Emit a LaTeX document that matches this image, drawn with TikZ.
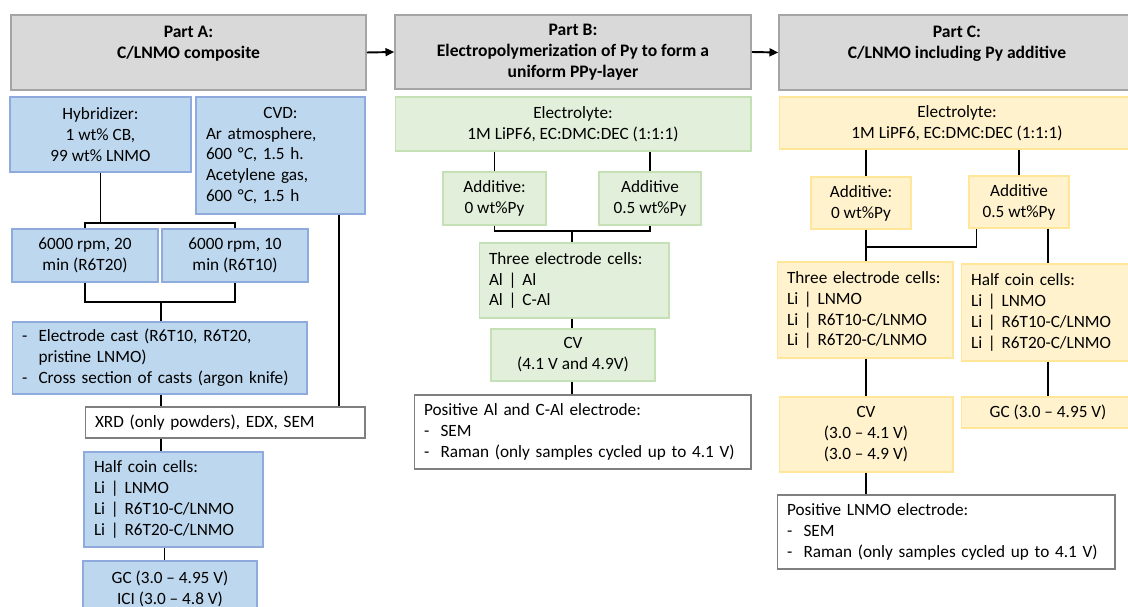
\documentclass[tikz,border=0pt]{standalone}
\usepackage{fontspec}
\setmainfont{Carlito}
\usetikzlibrary{arrows.meta,positioning,calc}
\definecolor{cgray}{HTML}{D9D9D9}
\definecolor{cgrayline}{HTML}{A5A5A5}
\definecolor{cblue}{HTML}{BDD7EE}
\definecolor{cblueline}{HTML}{8FAADC}
\definecolor{cgreen}{HTML}{E2EFDA}
\definecolor{cgreenline}{HTML}{C5E0B4}
\definecolor{cyel}{HTML}{FFF2CC}
\definecolor{cyelline}{HTML}{FFE699}
\definecolor{cwline}{HTML}{7F7F7F}
\newcommand{\dashitem}{\makebox[0.33cm][l]{-}}
\tikzset{
  bx/.style={rectangle,line width=0.6pt,align=center,font=\fontsize{9.8}{11.9}\selectfont,inner sep=2pt},
  hdr/.style={bx,fill=cgray,draw=cgrayline,line width=0.9pt,font=\fontsize{10}{11.9}\selectfont\bfseries},
  bluebox/.style={bx,fill=cblue,draw=cblueline},
  greenbox/.style={bx,fill=cgreen,draw=cgreenline},
  yelbox/.style={bx,fill=cyel,draw=cyelline},
  wbox/.style={bx,fill=white,draw=cwline},
  lbox/.style={align=left,inner xsep=0.2cm,text width=#1},
  sz/.style 2 args={minimum width=#1,minimum height=#2},
  ln/.style={line width=0.6pt,draw=black},
  arr/.style={-{Triangle[length=5pt,width=4.5pt]},line width=1.1pt,draw=black},
}
\begin{document}
\begin{tikzpicture}[x=0.02cm,y=-0.02cm]
  \useasboundingbox (0,0) rectangle (1128,607);
  % headers
  \node[hdr,sz={7.1cm}{1.5cm}] (partA) at (188.5,52.5) {Part A:\\C/LNMO composite\\\mbox{}};
  \node[hdr,sz={7.12cm}{1.48cm}] (partB) at (573,52) {Part B:\\Electropolymerization of Py to form a\\uniform PPy-layer};
  \node[hdr,sz={7.12cm}{1.5cm}] (partC) at (957,52.5) {Part C:\\C/LNMO including Py additive\\\mbox{}};
  \draw[arr] (partA.east) -- (partB.west);
  \draw[arr] (partB.east) -- (partC.west);
  % part A
  \node[bluebox,sz={3.62cm}{1.5cm}] (hyb) at (100.5,134.5) {Hybridizer:\\1 wt\% CB,\\99 wt\% LNMO};
  \node[bluebox,lbox=2.98cm,minimum height=2.34cm] (cvd) at (280.5,155.5) {\makebox[\linewidth]{CVD:}\\Ar atmosphere,\\600 °\textit{C}, 1.5 h.\\Acetylene gas,\\600 °\textit{C}, 1.5 h};
  \node[bluebox,sz={2.92cm}{1.06cm}] (r20) at (85,255.5) {6000 rpm, 20\\min (R6T20)};
  \node[bluebox,sz={2.92cm}{1.06cm}] (r10) at (235,255.5) {6000 rpm, 10\\min (R6T10)};
  \node[bluebox,lbox=5.5cm,minimum height=1.44cm] (cast) at (159.5,358) {\dashitem Electrode cast (R6T10, R6T20,\\\hspace*{0.33cm}pristine LNMO)\\\dashitem Cross section of casts (argon knife)};
  \node[wbox,lbox=5.2cm,minimum height=0.62cm] (xrd) at (225,422.5) {XRD (only powders), EDX, SEM};
  \node[bluebox,lbox=3.18cm,minimum height=1.9cm] (hcA) at (173.5,499.5) {Half coin cells:\\Li | LNMO\\Li | R6T10-C/LNMO\\Li | R6T20-C/LNMO};
  \node[bluebox,sz={3.48cm}{1.1cm}] (gcA) at (170,588.5) {GC (3.0 -- 4.95 V)\\ICI (3.0 -- 4.8 V)};
  \coordinate (jA1) at (100,223);
  \coordinate (jA2) at (161,302);
  \coordinate (cvdout) at ($(cvd.south)+(58.5,0)$);
  \draw[ln] (hyb.south) -- (hyb.south |- jA1);
  \draw[ln] (r20.north) |- (jA1) -| (r10.north);
  \draw[ln] (r20.south) |- (jA2) -| (r10.south);
  \draw[ln] (jA2) -- (jA2 |- cast.north);
  \draw[ln] (jA2 |- cast.south) -- (jA2 |- xrd.north);
  \draw[ln] (cvdout) -- (cvdout |- xrd.north);
  \draw[ln] (jA2 |- xrd.south) -- (jA2 |- hcA.north);
  \draw[ln] ([xshift=-5pt]hcA.south) -- ([xshift=-5pt]hcA.south |- gcA.north);
  % part B
  \node[greenbox,sz={7.12cm}{1.08cm}] (elB) at (573,124) {Electrolyte:\\1M LiPF6, EC:DMC:DEC (1:1:1)};
  \node[greenbox,sz={2.06cm}{1.06cm}] (addB0) at (494.5,198.5) {Additive:\\0 wt\%Py};
  \node[greenbox,sz={2.04cm}{1.06cm}] (addB5) at (650,198.5) {Additive\\0.5 wt\%Py};
  \node[greenbox,lbox=3.4cm,minimum height=1.5cm] (threeB) at (574,280.5) {Three electrode cells:\\Al | Al\\Al | C-Al};
  \node[greenbox,sz={3.28cm}{1.04cm}] (cvB) at (573,355) {CV\\(4.1 V and 4.9V)};
  \node[wbox,lbox=6.34cm,minimum height=1.48cm] (posB) at (582.5,432) {Positive Al and C-Al electrode:\\\dashitem SEM\\\dashitem Raman (only samples cycled up to 4.1 V)};
  \coordinate (jB) at (572,231);
  \draw[ln] (addB0.north |- elB.south) -- (addB0.north);
  \draw[ln] (addB5.north |- elB.south) -- (addB5.north);
  \draw[ln] (addB0.south) |- (jB) -| (addB5.south);
  \draw[ln] (jB) -- (jB |- threeB.north);
  \draw[ln] (jB |- threeB.south) -- (jB |- cvB.north);
  \draw[ln] (jB |- cvB.south) -- (jB |- posB.north);
  % part C
  \node[yelbox,sz={7.12cm}{1.04cm}] (elC) at (957,123) {Electrolyte:\\1M LiPF6, EC:DMC:DEC (1:1:1)};
  \node[yelbox,sz={2.0cm}{1.04cm}] (addC0) at (861,203) {Additive:\\0 wt\%Py};
  \node[yelbox,sz={2.0cm}{1.04cm}] (addC5) at (1019,202) {Additive\\0.5 wt\%Py};
  \node[yelbox,lbox=3.12cm,minimum height=1.92cm] (threeC) at (865,310) {Three electrode cells:\\Li | LNMO\\Li | R6T10-C/LNMO\\Li | R6T20-C/LNMO};
  \node[yelbox,lbox=3.08cm,minimum height=1.94cm] (hcC) at (1048,312.5) {Half coin cells:\\Li | LNMO\\Li | R6T10-C/LNMO\\Li | R6T20-C/LNMO};
  \node[yelbox,sz={3.48cm}{1.5cm}] (cvC) at (866,434.5) {CV\\(3.0 -- 4.1 V)\\(3.0 -- 4.9 V)};
  \node[yelbox,sz={3.48cm}{0.62cm}] (gcC) at (1048,412.5) {GC (3.0 -- 4.95 V)};
  \node[wbox,lbox=6.36cm,minimum height=1.48cm] (posC) at (946,532) {Positive LNMO electrode:\\\dashitem SEM\\\dashitem Raman (only samples cycled up to 4.1 V)};
  \coordinate (jC) at (866,247);
  \coordinate (c5in) at ($(addC5.south west)+(8,0)$);
  \draw[ln] (elC.south -| jC) -- (addC0.north -| jC);
  \draw[ln] (elC.south -| addC5.north) -- (addC5.north);
  \draw[ln] (addC0.south -| jC) -- (threeC.north -| jC);
  \draw[ln] (jC) -| (c5in);
  \draw[ln] (addC5.south -| hcC.north) -- (hcC.north);
  \draw[ln] (threeC.south -| jC) -- (cvC.north -| jC);
  \draw[ln] (hcC.south) -- (hcC.south |- gcC.north);
  \draw[ln] (cvC.south -| jC) -- (posC.north -| jC);
\end{tikzpicture}
\end{document}
